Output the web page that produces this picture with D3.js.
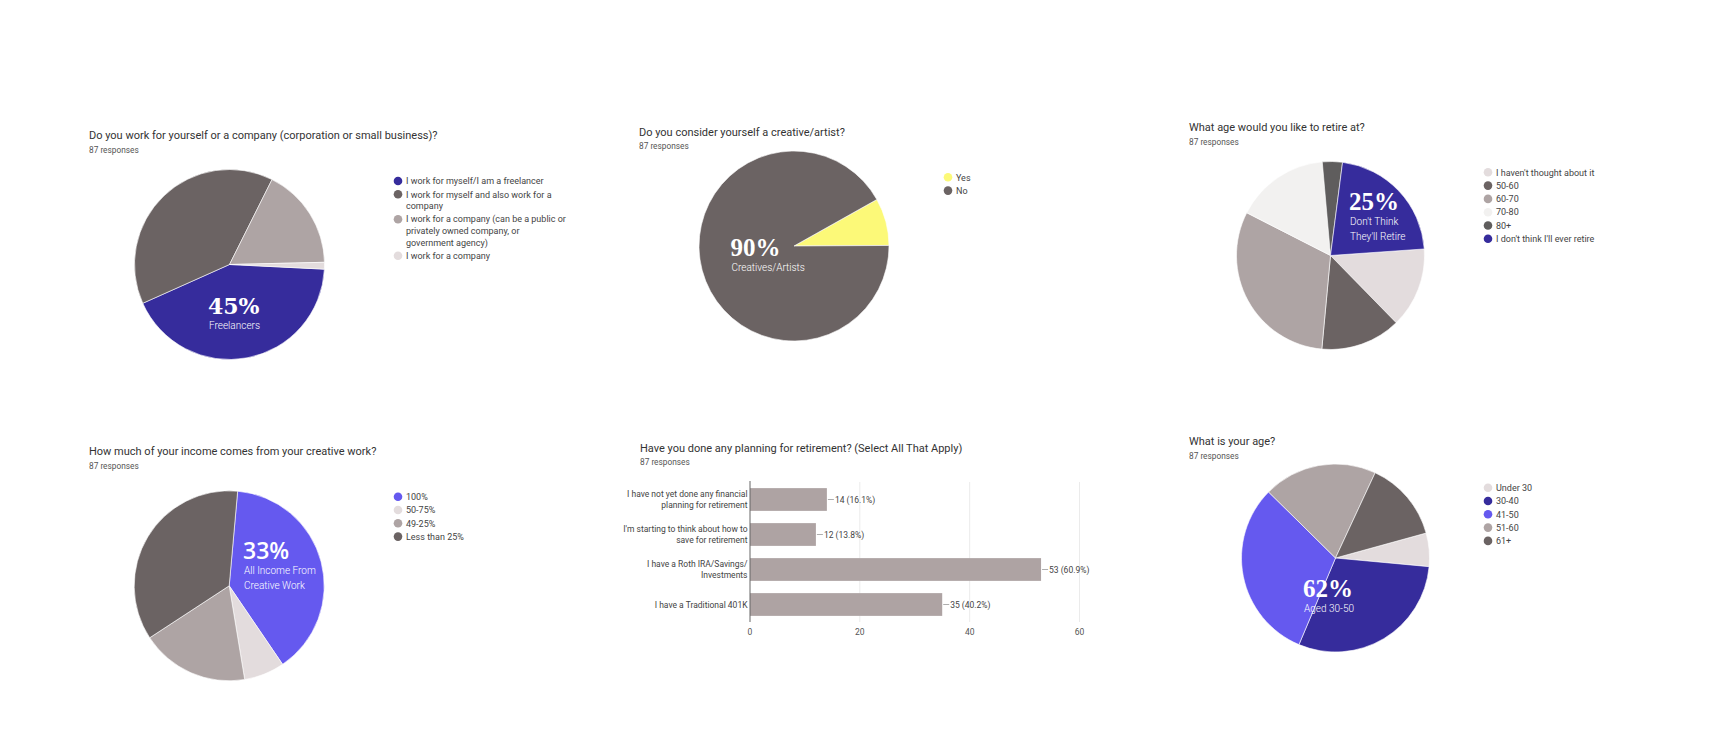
<!DOCTYPE html>
<meta charset="utf-8">
<script src="https://d3js.org/d3.v7.min.js"></script>
<style>
	body{margin:0;background:#fff;}
	svg{display:block;font-family:Roboto, 'Liberation Sans', sans-serif;}
	.title{font-size:11px;fill:#333;}
	.resp{font-size:8.3px;fill:#555;}
	.leg{font-size:9px;fill:#444;}
	.blab{font-size:8.5px;fill:#444;}
	.big{font-family:'Liberation Serif', serif;font-weight:bold;font-size:25px;fill:#fff;}
	.sub{font-family:Roboto, sans-serif;font-weight:300;font-size:10px;fill:#fff;}
	.tick{font-size:8.5px;fill:#555;}
</style>
<body>
<div id="chart"></div>
<script>
var respText = "87 responses"
var total = 87

// --- data ---
var workLabels = ["I work for myself/I am a freelancer", "I work for myself and also work for a\ncompany", "I work for a company (can be a public or\nprivately owned company, or\ngovernment agency)", "I work for a company"]
var workCounts = [37, 34, 15, 1]

var creativeLabels = ["Yes", "No"]
var creativeCounts = [7, 80]

var retireLabels = ["I haven't thought about it", "50-60", "60-70", "70-80", "80+", "I don't think I'll ever retire"]
var retireCounts = [12, 12, 27, 14, 3, 19]

var incomeLabels = ["100%", "50-75%", "49-25%", "Less than 25%"]
var incomeCounts = [34, 6, 16, 31]

var planLabels = ["I have not yet done any financial\nplanning for retirement", "I'm starting to think about how to\nsave for retirement", "I have a Roth IRA/Savings/\nInvestments", "I have a Traditional 401K"]
var planCounts = [14, 12, 53, 35]
var planTicks = [0, 20, 40, 60]

var ageLabels = ["Under 30", "30-40", "41-50", "51-60", "61+"]
var ageCounts = [5, 26, 27, 17, 12]

var indigo = "#362c9c", violet = "#6559ef", taupeDark = "#6b6363", taupe = "#aea4a4",
	blush = "#e3dcdd", offwhite = "#f2f1f0", slate = "#5f5d5d", yellow = "#fcf978"

var svg = d3.select("#chart").append("svg").attr("width", 1720).attr("height", 746)

function header(x, y, title, gap){
	svg.append("text").attr("class","title").attr("x",x).attr("y",y).text(title)
	svg.append("text").attr("class","resp").attr("x",x).attr("y",y+gap).text(respText)
}

function drawPie(c){
	header(c.tx, c.ty, c.title, 13.5)
	var pie = d3.pie().sort(null)
		.startAngle(c.start*Math.PI/180).endAngle(c.start*Math.PI/180+2*Math.PI)
	var arc = d3.arc().innerRadius(0).outerRadius(c.r)
	var g = svg.append("g").attr("transform","translate("+c.cx+","+c.cy+")")
	g.selectAll("path").data(pie(c.counts)).join("path")
		.attr("d", arc)
		.attr("fill", function(d,i){ return c.colors[i] })
		.attr("stroke","#fff").attr("stroke-width",0.6)

	// legend
	var y = c.ly
	c.labels.forEach(function(lab, i){
		var lines = lab.split("\n")
		svg.append("circle").attr("cx",c.lx).attr("cy",y).attr("r",4.3).attr("fill",c.colors[i])
		lines.forEach(function(l, j){
			svg.append("text").attr("class","leg").attr("x",c.lx+8).attr("y",y+3.2+j*11.6).text(l)
		})
		y += lines.length*11.6 + 1.7
	})

	// callout
	var big = svg.append("text").attr("class","big").attr("x",c.ox).attr("y",c.oy).text(c.big)
	if(c.bigFont) big.style("font-family",c.bigFont).style("font-size",c.bigSize).style("font-weight",c.bigWeight)
	c.sub.forEach(function(s, j){
		svg.append("text").attr("class","sub").attr("x",c.ox+1).attr("y",c.oy+15+j*15).text(s)
	})
}

drawPie({title:"Do you work for yourself or a company (corporation or small business)?", tx:89, ty:139,
	cx:229.5, cy:264.5, r:95, start:92.8, labels:workLabels, counts:workCounts,
	colors:[indigo, taupeDark, taupe, blush], lx:398, ly:181,
	ox:208, oy:313.5, big:"45%", sub:["Freelancers"], bigFont:"'DejaVu Serif', serif", bigSize:"22px", bigWeight:"bold"})

drawPie({title:"Do you consider yourself a creative/artist?", tx:639, ty:135.5,
	cx:794, cy:246, r:95, start:60.7, labels:creativeLabels, counts:creativeCounts,
	colors:[yellow, taupeDark], lx:948, ly:177.3,
	ox:730.5, oy:256, big:"90%", sub:["Creatives/Artists"]})

drawPie({title:"What age would you like to retire at?", tx:1189, ty:131,
	cx:1330.5, cy:255.5, r:94, start:86, labels:retireLabels, counts:retireCounts,
	colors:[blush, taupeDark, taupe, offwhite, slate, indigo], lx:1488, ly:172.3,
	ox:1349, oy:210, big:"25%", sub:["Don't Think","They'll Retire"]})

drawPie({title:"How much of your income comes from your creative work?", tx:89, ty:455,
	cx:229.2, cy:585.8, r:95, start:5.1, labels:incomeLabels, counts:incomeCounts,
	colors:[violet, blush, taupe, taupeDark], lx:398, ly:496.7,
	ox:243, oy:559, big:"33%", sub:["All Income From","Creative Work"], bigFont:"'Open Sans', sans-serif", bigSize:"23px", bigWeight:"600"})

drawPie({title:"What is your age?", tx:1189, ty:445,
	cx:1335.5, cy:558, r:94, start:74.6, labels:ageLabels, counts:ageCounts,
	colors:[blush, indigo, violet, taupe, taupeDark], lx:1488, ly:487.7,
	ox:1303, oy:596.7, big:"62%", sub:["Aged 30-50"]})

// --- bar chart ---
header(640, 451.7, "Have you done any planning for retirement? (Select All That Apply)", 13.3)

var x = d3.scaleLinear().domain([0, 60]).range([750, 1079.5])
var y = d3.scaleBand().domain(planLabels).range([482, 622]).paddingInner(0.35).paddingOuter(0.175)
var pct = d3.format(".1f")

var bars = svg.append("g")
bars.selectAll(".grid").data(planTicks.slice(1)).join("line")
	.attr("x1", function(d){ return x(d) }).attr("x2", function(d){ return x(d) })
	.attr("y1", 482).attr("y2", 622)
	.attr("stroke", "#ebebeb")

bars.selectAll(".bar").data(planCounts).join("rect")
	.attr("x", x(0))
	.attr("y", function(d,i){ return y(planLabels[i]) })
	.attr("width", function(d){ return x(d)-x(0) })
	.attr("height", y.bandwidth())
	.attr("fill", "#aea3a3")

bars.append("line").attr("x1",x(0)).attr("x2",x(0)).attr("y1",481).attr("y2",622)
	.attr("stroke","#666").attr("stroke-width",1)

planCounts.forEach(function(d, i){
	var cy = y(planLabels[i]) + y.bandwidth()/2
	bars.append("line").attr("x1",x(d)+1).attr("x2",x(d)+7).attr("y1",cy).attr("y2",cy)
		.attr("stroke","#999").attr("stroke-width",0.8)
	bars.append("text").attr("class","blab").attr("x",x(d)+8).attr("y",cy+3)
		.text(d+" ("+pct(d/total*100)+"%)")
	var lines = planLabels[i].split("\n")
	lines.forEach(function(l, j){
		bars.append("text").attr("class","blab").attr("text-anchor","end")
			.attr("x", 747.5).attr("y", cy+3+(j-(lines.length-1)/2)*10.4).text(l)
	})
})

bars.selectAll(".tk").data(planTicks).join("text")
	.attr("class","tick").attr("text-anchor","middle")
	.attr("x", function(d){ return x(d) }).attr("y", 635)
	.text(function(d){ return d })
</script>
</body>
